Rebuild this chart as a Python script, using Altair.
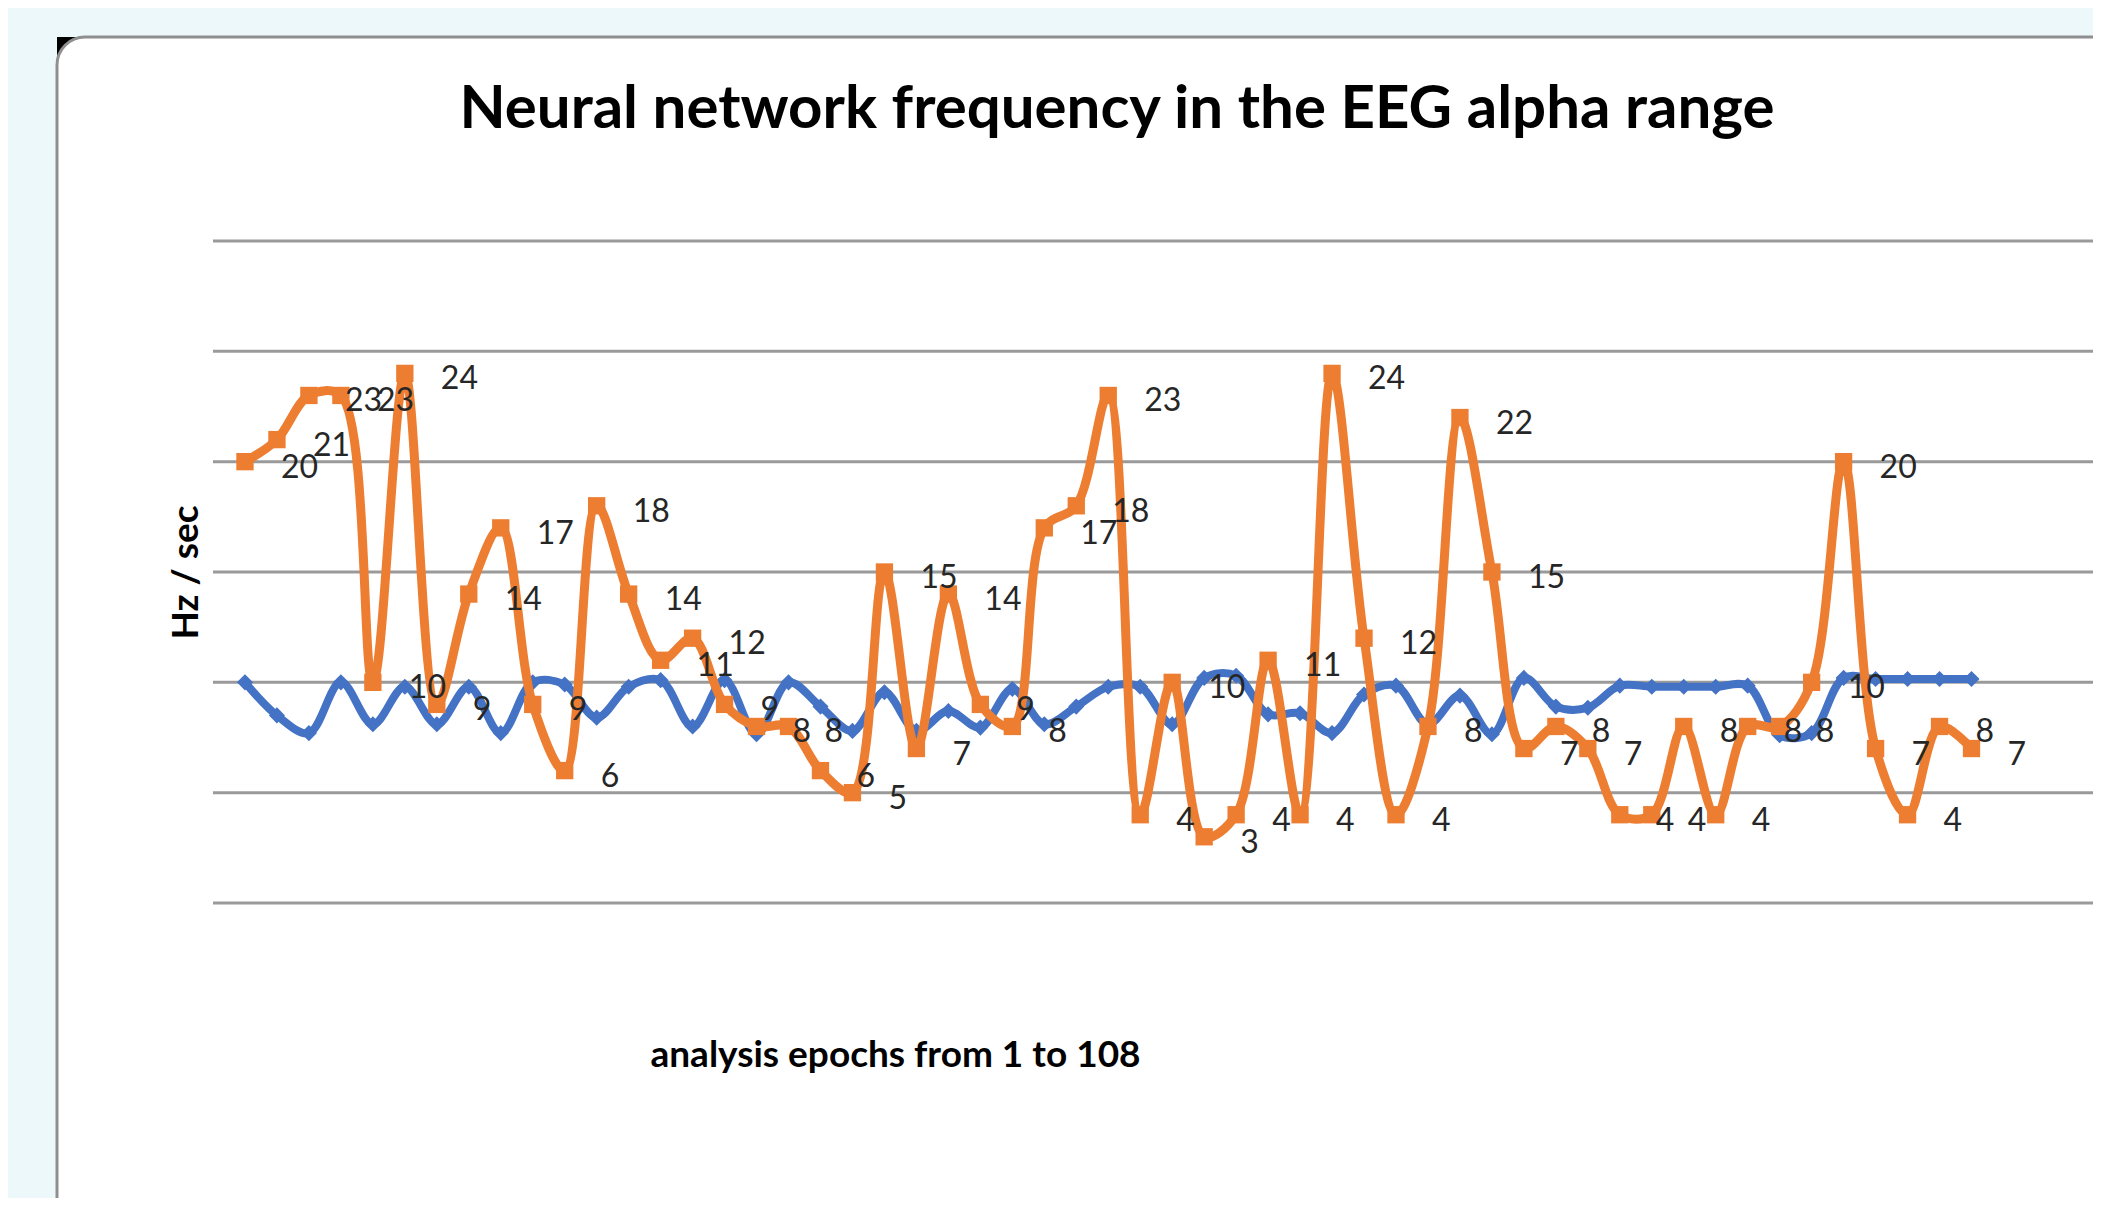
import altair as alt
import pandas as pd

# ---- data ----
epochs = list(range(1, 56))
network_freq = [20, 21, 23, 23, 10, 24, 9, 14, 17, 9,
                6, 18, 14, 11, 12, 9, 8, 8, 6, 5,
                15, 7, 14, 9, 8, 17, 18, 23, 4, 10,
                3, 4, 11, 4, 24, 12, 4, 8, 22, 15,
                7, 8, 7, 4, 4, 8, 4, 8, 8, 10,
                20, 7, 4, 8, 7]
alpha_freq = [10, 8.5, 7.7, 10, 8.1, 9.8, 8.1, 9.8, 7.7, 10,
              9.9, 8.4, 9.8, 10.1, 8.0, 10.1, 7.65, 10, 8.9, 7.8,
              9.55, 7.8, 8.7, 7.95, 9.7, 8.1, 8.9, 9.8, 9.8, 8.1,
              10.2, 10.3, 8.55, 8.6, 7.7, 9.45, 9.85, 8.1, 9.4, 7.65,
              10.2, 8.9, 8.85, 9.85, 9.8, 9.8, 9.8, 9.85, 7.6, 7.7,
              10.2, 10.15, 10.15, 10.15, 10.15]
grid_values = [0, 5, 10, 15, 20, 25, 30]

TITLE = "Neural network frequency in the EEG alpha range"
X_TITLE = "analysis epochs from 1 to 108"
Y_TITLE = "Hz / sec"

W, H = 1880, 662
ORANGE = "#ED7D31"
BLUE = "#4472C4"
FONT = "Lato"

df = pd.DataFrame({"epoch": epochs, "network": network_freq, "alpha": alpha_freq})
grid_df = pd.DataFrame({"v": grid_values})
one = pd.DataFrame({"k": [0]})

x_scale = alt.Scale(domain=[0, 58.8], nice=False, zero=False)
y_scale = alt.Scale(domain=[0, 30], nice=False, zero=True)

x_axis = alt.Axis(title=X_TITLE, labels=False, ticks=False, domain=False, grid=False,
                  titleFont=FONT, titleFontSize=37, titleFontWeight="bold", titleColor="#000000",
                  titleX=682, titleY=152, titleAlign="center", titleBaseline="middle", zindex=1)
y_axis = alt.Axis(title=Y_TITLE, labels=False, ticks=False, domain=False, grid=False,
                  titleFont=FONT, titleFontSize=37, titleFontWeight="bold", titleColor="#000000",
                  titleX=-27, titleY=331, titleAngle=-90, titleAlign="center",
                  titleBaseline="middle", zindex=1)

X = alt.X("epoch:Q", scale=x_scale, axis=x_axis)

# slide card decoration
card_corner = alt.Chart(one).mark_rect(color="#000000").encode(
    x=alt.value(-156), x2=alt.value(-126), y=alt.value(-204), y2=alt.value(-174))
card = alt.Chart(one).mark_rect(fill="#ffffff", stroke="#8f8f8f", strokeWidth=3, cornerRadius=28).encode(
    x=alt.value(-156), x2=alt.value(W + 60), y=alt.value(-204), y2=alt.value(H + 360))

grid = alt.Chart(grid_df).mark_rule(color="#9a9a9a", strokeWidth=3).encode(
    y=alt.Y("v:Q", scale=y_scale, axis=y_axis))

base = alt.Chart(df)
blue_line = base.mark_line(color=BLUE, strokeWidth=8, interpolate="catmull-rom").encode(
    x=X, y=alt.Y("alpha:Q", scale=y_scale, axis=y_axis))
blue_pts = base.mark_point(shape="diamond", filled=True, size=260, color=BLUE, opacity=1).encode(
    x=X, y=alt.Y("alpha:Q", scale=y_scale, axis=y_axis))
orange_line = base.mark_line(color=ORANGE, strokeWidth=9, interpolate="catmull-rom").encode(
    x=X, y=alt.Y("network:Q", scale=y_scale, axis=y_axis))
orange_pts = base.mark_point(shape="square", filled=True, size=300, color=ORANGE, opacity=1).encode(
    x=X, y=alt.Y("network:Q", scale=y_scale, axis=y_axis))
labels = base.mark_text(align="left", baseline="middle", dx=36, dy=6, font=FONT,
                        fontSize=32, color="#262626").encode(
    x=X, y=alt.Y("network:Q", scale=y_scale, axis=y_axis), text=alt.Text("network:Q"))

chart = alt.layer(card_corner, card, grid, blue_line, blue_pts, orange_line, orange_pts, labels).properties(
    width=W, height=H,
    title=alt.TitleParams(text=TITLE, font=FONT, fontSize=60, fontWeight="bold", color="#000000",
                          anchor="middle", frame="group", dx=-36, offset=-152, baseline="alphabetic"),
    autosize=alt.AutoSizeParams(type="none"),
    padding={"left": 205, "top": 233, "right": 0, "bottom": 295},
    background="#edf8fb",
).configure_view(stroke=None)

chart.save("out.html", embed_options={"renderer": "svg", "actions": False})
